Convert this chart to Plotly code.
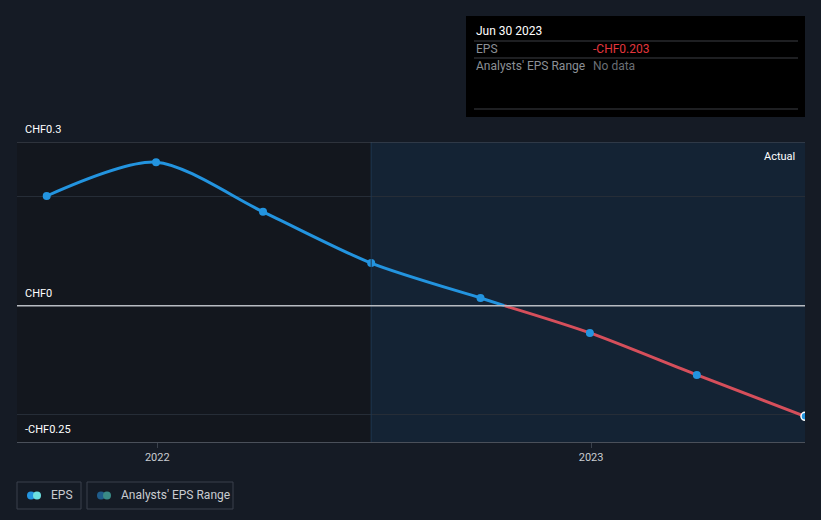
import pandas as pd
import plotly.graph_objects as go

# EPS (CHF) at each quarter end
dates = ["2021-09-30", "2021-12-31", "2022-03-31", "2022-06-30",
         "2022-09-30", "2022-12-31", "2023-03-31", "2023-06-30"]
eps = [0.201, 0.263, 0.172, 0.078, 0.014, -0.050, -0.127, -0.203]

y_ticks = [0.3, 0, -0.25]
y_tick_labels = ["CHF0.3", "CHF0", "-CHF0.25"]
x_ticks = ["2022-01-01", "2023-01-01"]
x_tick_labels = ["2022", "2023"]
actual_start = "2022-06-30"

BG = "#151b25"
BLUE = "#2394df"
RED = "#d64f5b"
FONT = "Roboto, Arial, sans-serif"

d = pd.to_datetime(dates)

# split the line where it crosses zero so the negative part can be red
i = next(k for k in range(1, len(eps)) if eps[k] < 0)
f = eps[i - 1] / (eps[i - 1] - eps[i])
cross = d[i - 1] + (d[i] - d[i - 1]) * f

fig = go.Figure()

# lighter panel for the "actual" period
fig.add_shape(type="rect", xref="x", yref="paper", x0=actual_start, x1="2023-06-30",
              y0=0, y1=1, fillcolor="#142334", line_width=0, layer="below")
fig.add_shape(type="rect", xref="x", yref="paper", x0="2021-09-05", x1=actual_start,
              y0=0, y1=1, fillcolor="#13171e", line_width=0, layer="below")
fig.add_shape(type="line", xref="x", yref="paper", x0=actual_start, x1=actual_start,
              y0=0, y1=1, line=dict(color="#1f3850", width=1))

fig.add_trace(go.Scatter(x=list(d[:i]) + [cross], y=eps[:i] + [0], mode="lines",
                         line=dict(color=BLUE, width=3, shape="spline", smoothing=0.8),
                         hoverinfo="skip", showlegend=False))
fig.add_trace(go.Scatter(x=[cross] + list(d[i:]), y=[0] + eps[i:], mode="lines",
                         line=dict(color=RED, width=3, shape="spline", smoothing=0.8),
                         hoverinfo="skip", showlegend=False))
fig.add_trace(go.Scatter(x=d, y=eps, mode="markers",
                         marker=dict(color=BLUE, size=8,
                                     line=dict(color=["rgba(0,0,0,0)"] * (len(eps) - 1) + ["white"],
                                               width=1.5)),
                         hoverinfo="skip", showlegend=False))

fig.update_layout(
    width=821, height=520,
    paper_bgcolor=BG, plot_bgcolor=BG,
    margin=dict(l=17, r=16, t=142, b=78),
    font=dict(family=FONT, color="#ffffff", size=11),
    showlegend=False,
    xaxis=dict(range=["2021-09-05", "2023-06-30"], tickvals=x_ticks, ticktext=x_tick_labels,
               showgrid=False, zeroline=False, ticks="outside", ticklen=5,
               tickcolor="#3a414c", tickfont=dict(color="#c9ccd1", size=11),
               showline=True, linecolor="#4a505a", linewidth=1),
    yaxis=dict(range=[-0.25, 0.3], tickvals=[0.2, -0.2], showticklabels=False,
               gridcolor="#262d37", gridwidth=1, zeroline=False, showline=False),
)

# top and zero lines
for yv, col in [(0.3, "#4a505a"), (0, "#b8bcc2")]:
    fig.add_shape(type="line", xref="paper", yref="y", x0=0, x1=1, y0=yv, y1=yv,
                  line=dict(color=col, width=1.5 if yv == 0 else 1))

# y labels sit above the lines
for yv, lab in zip(y_ticks, y_tick_labels):
    fig.add_annotation(xref="paper", yref="y", x=0.008, y=yv if yv > -0.25 else -0.2,
                       text=lab, showarrow=False, xanchor="left",
                       yanchor="bottom" if yv > -0.25 else "top", yshift=4 if yv > -0.25 else -6,
                       font=dict(color="#ffffff", size=11))

fig.add_annotation(xref="paper", yref="paper", x=0.99, y=0.98, text="Actual",
                   showarrow=False, xanchor="right", yanchor="top",
                   font=dict(color="#ffffff", size=11))


def px_x(x):
    return (x - 17) / 788


def px_y(y):
    return (442 - y) / 300


# tooltip box
fig.add_shape(type="rect", xref="paper", yref="paper", x0=px_x(466), x1=px_x(805),
              y0=px_y(117), y1=px_y(16), fillcolor="#000000", line_width=0)
for yy in [41, 58, 109]:
    fig.add_shape(type="line", xref="paper", yref="paper", x0=px_x(474), x1=px_x(798),
                  y0=px_y(yy), y1=px_y(yy), line=dict(color="#3c3f44", width=1))
tips = [(474, 31, "Jun 30 2023", "#ffffff"),
        (474, 49, "EPS", "#8c9096"),
        (591, 49, "-CHF0.203", "#e3363d"),
        (474, 66, "Analysts' EPS Range", "#8c9096"),
        (591, 66, "No data", "#6a6e74")]
for tx, ty, txt, col in tips:
    fig.add_annotation(xref="paper", yref="paper", x=px_x(tx), y=px_y(ty), text=txt,
                       showarrow=False, xanchor="left", yanchor="middle",
                       font=dict(color=col, size=12))

# legend
legend_items = [(17, 81, "EPS", "#2394df", "#6de0e0"),
                (87, 233, "Analysts' EPS Range", "#1f5c8a", "#3a8a86")]
for x0, x1, lab, c1, c2 in legend_items:
    fig.add_shape(type="rect", xref="paper", yref="paper", x0=px_x(x0), x1=px_x(x1),
                  y0=px_y(509), y1=px_y(482), line=dict(color="#3a414c", width=1),
                  fillcolor="rgba(0,0,0,0)")
    for cx, col in [(x0 + 14, c1), (x0 + 20, c2)]:
        fig.add_shape(type="circle", xref="paper", yref="paper",
                      x0=px_x(cx - 4), x1=px_x(cx + 4), y0=px_y(499.5), y1=px_y(491.5),
                      fillcolor=col, line_width=0)
    fig.add_annotation(xref="paper", yref="paper", x=px_x(x0 + 32), y=px_y(495.5), text=lab,
                       showarrow=False, xanchor="left", yanchor="middle",
                       font=dict(color="#c9ccd1", size=12))

fig.write_html("out.html", config={"displayModeBar": False},
               post_script="document.body.style.margin='0';"
                           "document.body.style.background='#151b25';")
